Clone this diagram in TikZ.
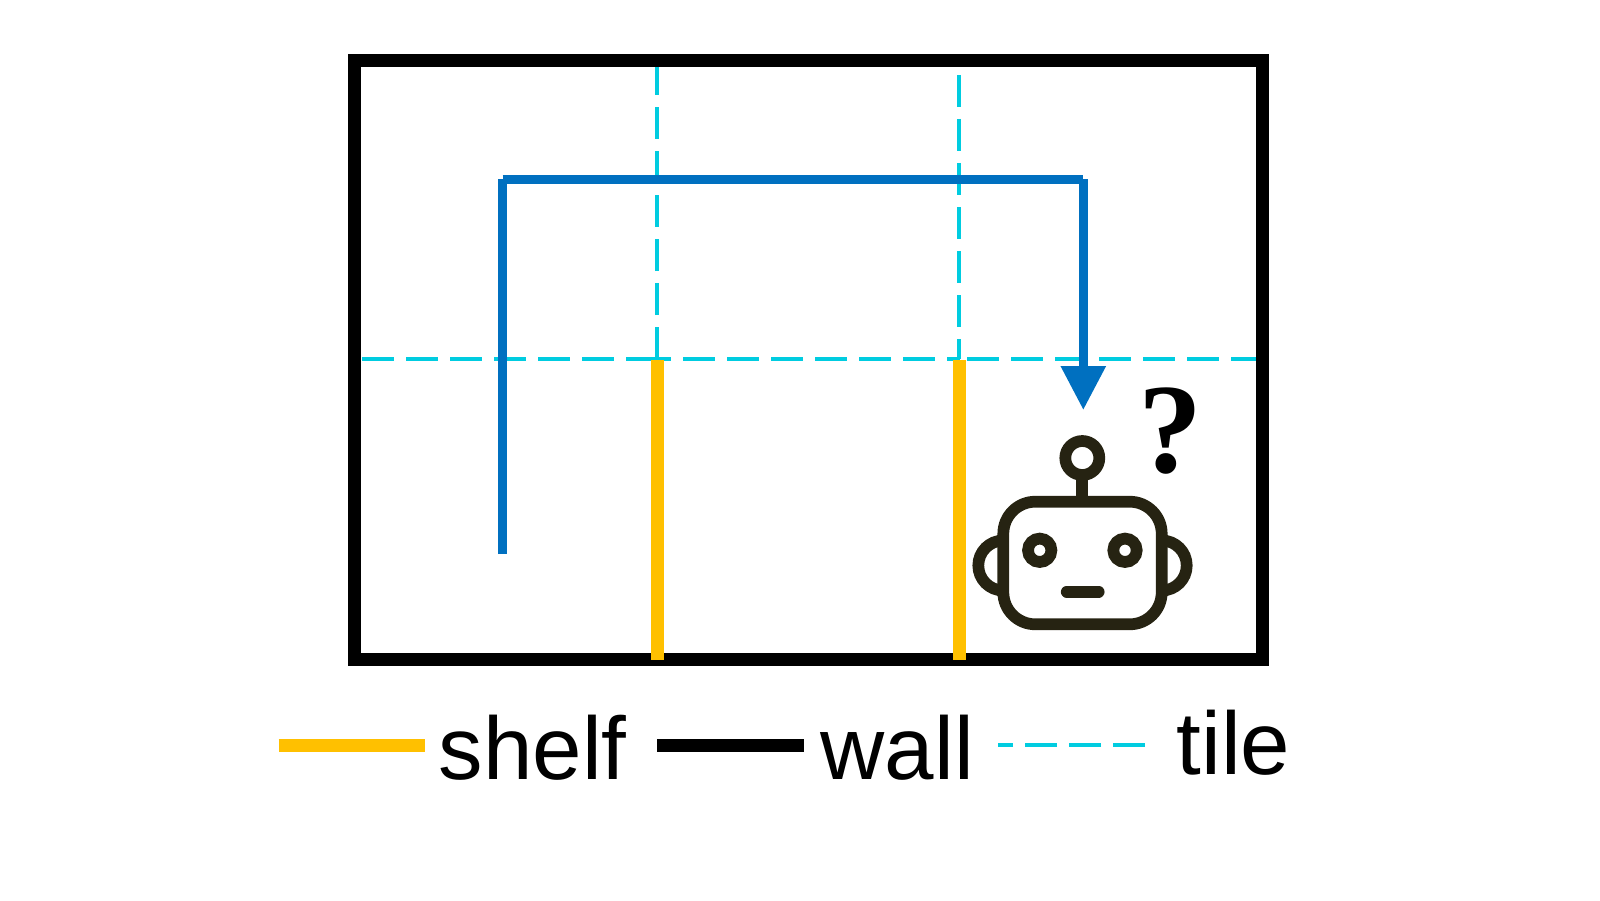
\documentclass[tikz,border=0pt]{standalone}
\usepackage{fontspec}
\setmainfont{Liberation Sans}
\newfontfamily\serifmark{Liberation Serif}
\usetikzlibrary{arrows.meta}

\begin{document}
\begin{tikzpicture}[
    % Global Styles
    colWall/.style={draw=black, line width=0.13cm},
    colShelf/.style={draw=shelfYellow, line width=0.13cm},
    colTile/.style={draw=tileCyan, line width=0.04cm, dash pattern=on 0.32cm off 0.12cm},
    colPath/.style={draw=pathBlue, line width=0.09cm},
    colRobot/.style={draw=robotDark, line width=0.117cm},
    legendText/.style={anchor=base west, inner sep=0pt, font=\fontsize{25.3}{30}\selectfont},
]
    \definecolor{shelfYellow}{HTML}{FFC000}
    \definecolor{tileCyan}{HTML}{00CCE0}
    \definecolor{pathBlue}{HTML}{0070C0}
    \definecolor{robotDark}{HTML}{262312}

    \useasboundingbox (0, 0) rectangle (16, 9);

    % --- Tiles ---
    \draw[colTile] (3.62, 5.41) -- (6.58, 5.41);
    \draw[colTile] (6.39, 5.41) -- (9.60, 5.41);
    \draw[colTile] (9.67, 5.41) -- (12.56, 5.41);
    \draw[colTile] (6.57, 5.41) -- (6.57, 8.33);
    \draw[colTile] (9.59, 8.25) -- (9.59, 5.41);

    % --- Walls ---
    \draw[colWall] (3.545, 2.41) rectangle (12.62, 8.395);

    % --- Shelves ---
    \draw[colShelf] (6.575, 5.40) -- (6.575, 2.40);
    \draw[colShelf] (9.595, 5.40) -- (9.595, 2.40);

    % --- Route ---
    \coordinate (pathStart) at (5.025, 3.46);
    \coordinate (pathLeft) at (5.025, 7.205);
    \coordinate (pathRight) at (10.833, 7.205);
    \coordinate (pathEnd) at (10.833, 4.90);
    \draw[colPath] (pathStart) -- (pathLeft);
    \draw[colPath] (pathLeft) -- (pathRight);
    \draw[colPath, -{Triangle[length=0.44cm, width=0.43cm]}] (pathRight) -- (pathEnd);

    % --- Robot ---
    \draw[colRobot, rounded corners=0.32cm] (10.033, 2.757) rectangle (11.617, 3.983);
    \draw[colRobot] (10.823, 4.42) circle (0.17);
    \draw[colRobot] (10.823, 4.25) -- (10.823, 3.983);
    \draw[colRobot] (10.397, 3.497) circle (0.117);
    \draw[colRobot] (11.25, 3.497) circle (0.117);
    \draw[colRobot, line cap=round] (10.667, 3.083) -- (10.987, 3.083);
    \draw[colRobot] (10.033, 3.595) arc[start angle=90, end angle=270, radius=0.25];
    \draw[colRobot] (11.617, 3.095) arc[start angle=-90, end angle=90, radius=0.25];
    \node[font=\serifmark\bfseries\fontsize{36.4}{40}\selectfont] (robotMark) at (11.70, 4.69) {?};

    % --- Legend ---
    \draw[colShelf] (2.786, 1.55) -- (4.245, 1.55);
    \node[legendText] (shelfLabel) at (4.38, 1.21) {shelf};
    \draw[colWall] (6.57, 1.55) -- (8.04, 1.55);
    \node[legendText] (wallLabel) at (8.20, 1.21) {wall};
    \draw[colTile] (11.45, 1.55) -- (9.98, 1.55);
    \node[legendText] (tileLabel) at (11.76, 1.26) {tile};

\end{tikzpicture}
\end{document}
